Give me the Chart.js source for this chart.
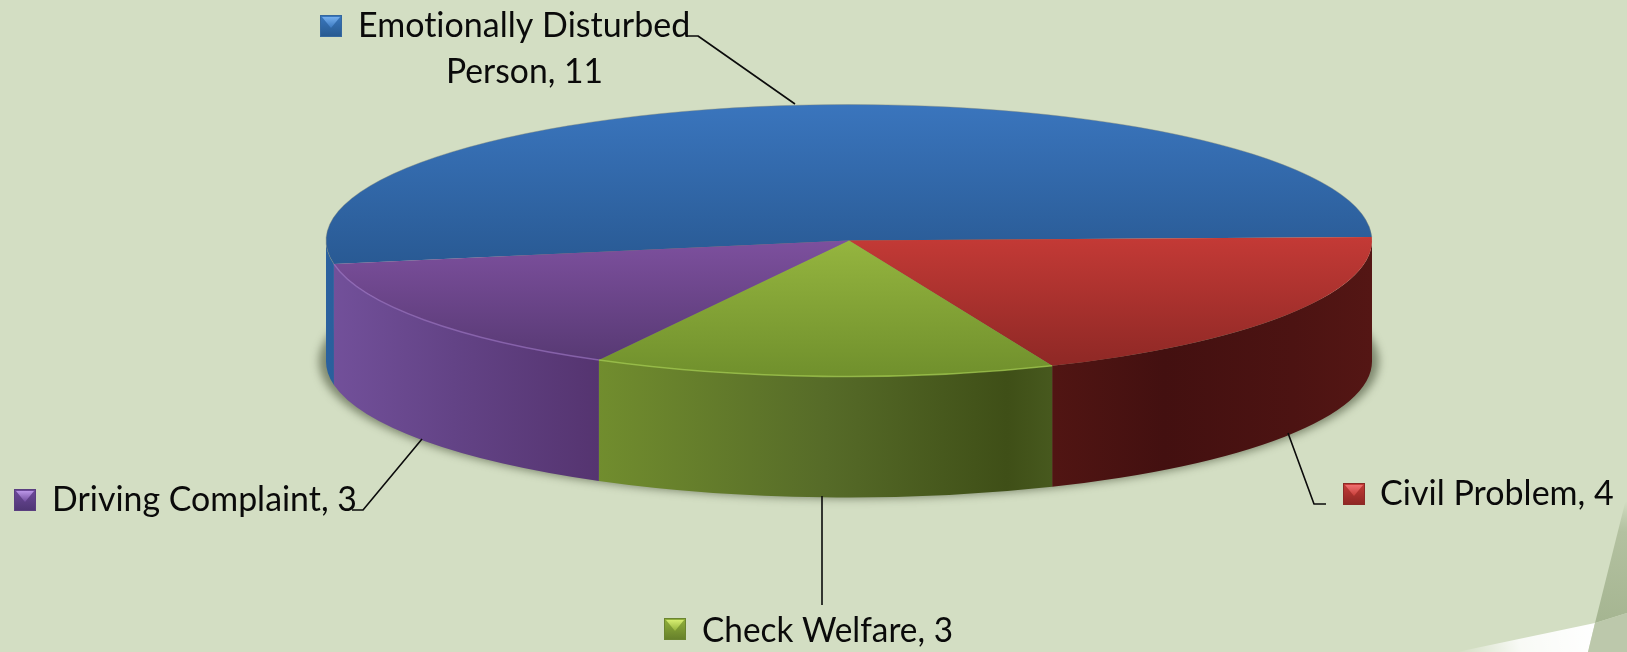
<!DOCTYPE html>
<html><head><meta charset="utf-8">
<style>html,body{margin:0;padding:0;background:#d3dec3;overflow:hidden}canvas{display:block}</style>
<script src="https://cdn.jsdelivr.net/npm/chart.js@4"></script>
</head><body>
<canvas id="c" width="1627" height="652"></canvas>
<script>
const categories = ['Emotionally Disturbed Person', 'Civil Problem', 'Check Welfare', 'Driving Complaint'];
const values = [11, 4, 3, 3];

const RADIUS = 523, RY = 136, DEPTH = 121, ROTATION = 260;
const CY = 240.5, K = RY / RADIUS;

const topStyle = [
  {y0:105, y1:262, c0:'#3a75bd', c1:'#295a94'},
  {y0:236, y1:366, c0:'#c43a36', c1:'#8e2825'},
  {y0:240, y1:380, c0:'#95b53f', c1:'#6f8f2c'},
  {y0:240, y1:362, c0:'#7d509e', c1:'#573973'}
];
const wallStyle = [
  [[0,'#2a619f'],[1,'#2a5f9c']],
  [[0,'#511513'],[0.35,'#431010'],[0.75,'#4c1312'],[1,'#541614']],
  [[0,'#718d2e'],[0.5,'#566b28'],[0.9,'#3f4f17'],[1,'#47591e']],
  [[0,'#72509a'],[0.45,'#634386'],[1,'#553470']]
];
const rimStyle = [null, null, 'rgba(165,205,80,.7)', 'rgba(150,110,190,.7)'];
const markerStyle = [
  {edge:'#35689f', hi:'#7fb8f5', lo:'#27598f', mid:'#3a78c0'},
  {edge:'#8c2a27', hi:'#f7797a', lo:'#8d2623', mid:'#c63d38'},
  {edge:'#6b8530', hi:'#e2f87a', lo:'#657f2a', mid:'#93b23c'},
  {edge:'#5a3f80', hi:'#c8a4f5', lo:'#4e3573', mid:'#6f4b9c'}
];
const labelLayout = [
  {lines:[['Emotionally Disturbed',358,37,334],['Person, '+values[0],446,83,157]], marker:[320,15], leader:[[795,104],[698,36],[687,36]]},
  {lines:[['Civil Problem, '+values[1],1380,505,234]], marker:[1343,483], leader:[[1288,433],[1314,504],[1326,504]]},
  {lines:[['Check Welfare, '+values[2],702,642,251]], marker:[664,618], leader:[[822,496],[822,605]]},
  {lines:[['Driving Complaint, '+values[3],52,511,305]], marker:[14,489], leader:[[422,439],[363,510],[352,510]]}
];
const FONT = '34px Lato, "Open Sans", sans-serif';

const canvas = document.getElementById('c');
const g = canvas.getContext('2d');
const srcY = y => CY + (y - CY) / K;
const fills = topStyle.map(s => {
  const gr = g.createLinearGradient(0, srcY(s.y0), 0, srcY(s.y1));
  gr.addColorStop(0, s.c0); gr.addColorStop(1, s.c1);
  return gr;
});

const pie3d = {
  id: 'pie3d',
  beforeDraw(chart) {
    const c = chart.ctx;
    c.save();
    c.fillStyle = '#d3dec3';
    c.fillRect(0, 0, 1627, 652);
    let gr = c.createLinearGradient(1457, 652, 1595, 623);
    gr.addColorStop(0, 'rgba(255,255,255,0)');
    gr.addColorStop(0.45, 'rgba(255,255,255,.85)');
    gr.addColorStop(1, '#ffffff');
    c.fillStyle = gr;
    c.beginPath(); c.moveTo(1457,652); c.lineTo(1595,623); c.lineTo(1588,652); c.closePath(); c.fill();
    gr = c.createLinearGradient(1610, 500, 1600, 623);
    gr.addColorStop(0, 'rgba(169,184,150,0)');
    gr.addColorStop(0.25, '#b3c1a0');
    gr.addColorStop(1, '#a5b591');
    c.fillStyle = gr;
    c.beginPath(); c.moveTo(1627,495); c.lineTo(1595,623); c.lineTo(1627,613); c.closePath(); c.fill();
    c.fillStyle = '#bcc8ab';
    c.beginPath(); c.moveTo(1595,623); c.lineTo(1627,613); c.lineTo(1627,652); c.lineTo(1588,652); c.closePath(); c.fill();
    c.restore();
  },
  beforeDatasetsDraw(chart) {
    const c = chart.ctx, arcs = chart.getDatasetMeta(0).data;
    const cx = arcs[0].x, cy = arcs[0].y, R = arcs[0].outerRadius;
    c.save();
    // soft shadow under the disc
    c.filter = 'blur(4px)';
    c.fillStyle = 'rgba(70,80,55,.6)';
    c.beginPath(); c.ellipse(cx, cy + DEPTH, R + 7, RY + 1, 0, 0, Math.PI * 2); c.fill();
    c.filter = 'none';
    // side walls
    arcs.forEach((a, i) => {
      const tau = Math.PI * 2;
      let s = a.startAngle % tau, e = a.endAngle % tau;
      if (s < 0) s += tau;
      if (e <= 0) e += tau;
      let from, to;
      if (e < s) { from = 0; to = e; }          // crosses 0 rad
      else { from = s; to = Math.min(e, Math.PI); }
      if (from >= Math.PI || to <= from) return;
      const x0 = cx + R * Math.cos(from), x1 = cx + R * Math.cos(to);
      const gr = c.createLinearGradient(Math.min(x0,x1), 0, Math.max(x0,x1), 0);
      wallStyle[i].forEach(st => gr.addColorStop(st[0], st[1]));
      c.fillStyle = gr;
      c.beginPath();
      c.ellipse(cx, cy, R, RY, 0, from, to);
      c.ellipse(cx, cy + DEPTH, R, RY, 0, to, from, true);
      c.closePath();
      c.fill();
    });
    c.restore();
    // squash the pie into perspective
    c.save();
    c.translate(cx, cy); c.scale(1, K); c.translate(-cx, -cy);
  },
  afterDatasetsDraw(chart) {
    const c = chart.ctx, arcs = chart.getDatasetMeta(0).data;
    c.restore();
    const cx = arcs[0].x, cy = arcs[0].y, R = arcs[0].outerRadius;
    arcs.forEach((a, i) => {
      if (!rimStyle[i]) return;
      c.strokeStyle = rimStyle[i]; c.lineWidth = 1.6;
      c.beginPath(); c.ellipse(cx, cy, R, RY, 0, a.startAngle, a.endAngle); c.stroke();
    });
    c.strokeStyle = 'rgba(130,135,120,.4)'; c.lineWidth = 1;
    c.beginPath(); c.ellipse(cx, cy, R, RY, 0, arcs[0].startAngle, arcs[0].endAngle); c.stroke();
  },
  afterDraw(chart) {
    const c = chart.ctx;
    c.save();
    labelLayout.forEach((l, i) => {
      c.strokeStyle = '#0b0b0b'; c.lineWidth = 1.6; c.lineJoin = 'round';
      c.beginPath();
      l.leader.forEach((p, j) => j ? c.lineTo(p[0], p[1]) : c.moveTo(p[0], p[1]));
      c.stroke();
      const m = markerStyle[i], x = l.marker[0], y = l.marker[1], w = 22, h = 22, b = 2;
      c.fillStyle = m.edge; c.fillRect(x, y, w, h);
      const gr = c.createLinearGradient(0, y, 0, y + h);
      gr.addColorStop(0, m.mid); gr.addColorStop(1, m.lo);
      c.fillStyle = gr; c.fillRect(x + 1, y + 1, w - 2, h - 2);
      const hg = c.createLinearGradient(0, y, 0, y + h / 2 + 2);
      hg.addColorStop(0, m.hi); hg.addColorStop(1, m.mid);
      c.fillStyle = hg;
      c.beginPath(); c.moveTo(x + b, y + b); c.lineTo(x + w - b, y + b); c.lineTo(x + w / 2, y + h / 2 + 2); c.closePath(); c.fill();
      c.fillStyle = '#0a0a0a'; c.font = FONT; c.textBaseline = 'alphabetic'; c.textAlign = 'left';
      c.letterSpacing = '0.02px';
      l.lines.forEach(t => c.fillText(t[0], t[1], t[2], t[3]));
    });
    c.restore();
  }
};

new Chart(canvas, {
  type: 'pie',
  data: {
    labels: categories,
    datasets: [{
      data: values,
      backgroundColor: fills,
      borderWidth: 0,
      clip: false
    }]
  },
  options: {
    responsive: false,
    animation: false,
    events: [],
    radius: RADIUS,
    rotation: ROTATION,
    layout: { padding: { left: 71, right: 0, top: 0, bottom: 171 } },
    plugins: { legend: { display: false }, tooltip: { enabled: false }, title: { display: false } }
  },
  plugins: [pie3d]
});
</script>
</body></html>
